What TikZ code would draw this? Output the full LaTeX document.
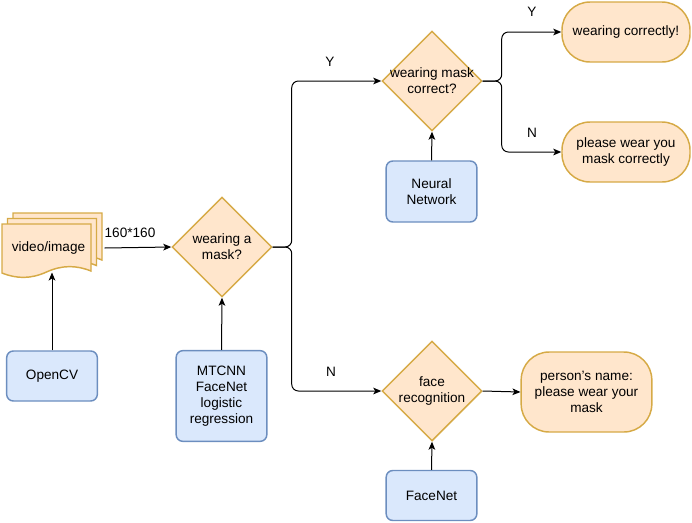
\documentclass[tikz,border=0pt]{standalone}
\usepackage{fontspec}
\setmainfont{Liberation Sans}
\usetikzlibrary{shapes.geometric,arrows.meta}

\definecolor{procfill}{RGB}{255,230,204}
\definecolor{procdraw}{RGB}{214,170,70}
\definecolor{toolfill}{RGB}{218,232,252}
\definecolor{tooldraw}{RGB}{108,142,191}

\tikzset{every picture/.style={line width=0.75pt}}

\begin{document}
\begin{tikzpicture}[x=0.75pt,y=0.75pt,yscale=-1,xscale=1,
	font=\fontsize{10.2}{12}\selectfont,
	page/.style={draw=procdraw,fill=procfill,line width=1.1pt},
	decision/.style={diamond,draw=procdraw,fill=procfill,line width=1.1pt,aspect=1,minimum width=75pt,minimum height=75pt,inner sep=-4pt,align=center},
	terminal/.style={rectangle,rounded corners=21pt,draw=procdraw,fill=procfill,line width=1.1pt,align=center,minimum width=96pt,minimum height=45pt},
	tool/.style={rectangle,rounded corners=5pt,draw=tooldraw,fill=toolfill,line width=1.1pt,align=center,minimum width=68pt},
	flow/.style={-{Stealth[length=6pt,width=5pt,inset=1.5pt]},rounded corners=5pt},
	lbl/.style={inner sep=0.75pt}]
	\useasboundingbox (0,0) rectangle (692,522);
	
	%Shape: Multi document
	\foreach \d in {11,5.5,0}
	\draw[page] (2+\d,224-\d) -- (91+\d,224-\d) -- (91+\d,271-\d) .. controls (76+\d,265-\d) and (62+\d,265-\d) .. (46.5+\d,272-\d) .. controls (31+\d,279-\d) and (17+\d,279-\d) .. (2+\d,273-\d) -- cycle ;
	\node[inner sep=0pt,minimum width=66.75pt,minimum height=36pt] (video) at (48.5,248) {video/image};
	
	%Decisions
	\node[decision] (mask) at (222,247) {wearing a\\mask?};
	\node[decision] (check) at (432,81) {wearing mask\\correct?};
	\node[decision] (face) at (432,391) {face\\recognition};
	
	%Terminals
	\node[terminal] (correct) at (626,32) {wearing correctly!};
	\node[terminal] (wrong) at (626,152) {please wear you\\mask correctly};
	\node[terminal,minimum width=98pt,minimum height=60pt] (name) at (586.5,392) {person's name:\\please wear your\\mask};
	
	%Tools
	\node[tool,minimum height=37.5pt] (opencv) at (52,376) {OpenCV};
	\node[tool,minimum height=68pt] (mtcnn) at (221.5,396) {MTCNN\\FaceNet\\logistic\\regression};
	\node[tool,minimum height=45.75pt] (nn) at (431.5,191.5) {Neural\\Network};
	\node[tool,minimum height=37.5pt] (facenet) at (431.5,495.5) {FaceNet};
	
	%Connectors
	\draw[flow] (opencv.north) -- (opencv.north |- video.south) ;
	\draw[flow] ([xshift=8.25pt]video.east) -- (mask.west) ;
	\draw[flow] (mtcnn.north) -- (mask.south) ;
	\draw[flow] (mask.east) -- ++(19,0) |- (check.west) ;
	\draw[flow] (mask.east) -- ++(19,0) |- (face.west) ;
	\draw[flow] (nn.north) -- (check.south) ;
	\draw[flow] (check.east) -- ++(19,0) |- (correct.west) ;
	\draw[flow] (check.east) -- ++(19,0) |- (wrong.west) ;
	\draw[flow] (facenet.north) -- (face.south) ;
	\draw[flow] (face.east) -- (name.west) ;
	
	% Text Node
	\node[lbl] at (130,233) {160*160};
	\node[lbl] at (330,62) {Y};
	\node[lbl] at (331,372) {N};
	\node[lbl] at (532,12) {Y};
	\node[lbl] at (532,133) {N};
\end{tikzpicture}
\end{document}
